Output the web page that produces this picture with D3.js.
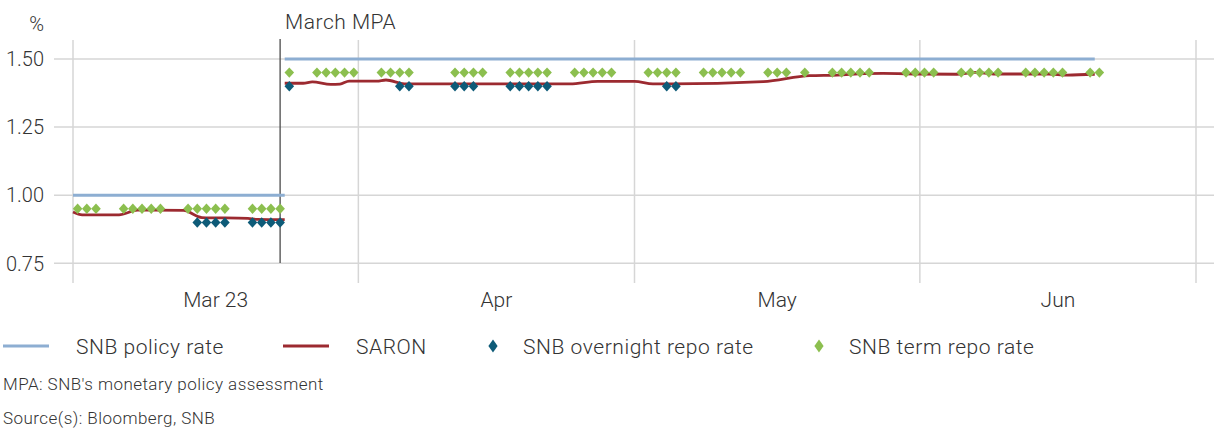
<!DOCTYPE html>
<html>
<head>
<meta charset="utf-8">
<style>
    body { margin: 0; background: #fff; }
    svg text { font-family: Roboto, "Noto Sans", sans-serif; font-weight: 300; fill: #333; }
    .grid line { stroke: #d6d6d6; stroke-width: 1.5px; }
</style>
</head>
<body>
<svg id="chart" width="1214" height="430"></svg>
<script src="https://d3js.org/d3.v7.min.js"></script>
<script>
    var parse = d3.timeParse("%Y-%m-%d");

    // x axis: month starts and labels
    var monthStarts = ["2023-03-01", "2023-04-01", "2023-05-01", "2023-06-01", "2023-07-01"];
    var monthLabels = ["Mar 23", "Apr", "May", "Jun"];
    var yTicks = [0.75, 1.00, 1.25, 1.50];

    // SNB policy rate periods
    var policyFrom = ["2023-03-01", "2023-03-24"];
    var policyTo = ["2023-03-24", "2023-06-20"];
    var policyRate = [1.00, 1.50];

    // SARON (two segments split at the MPA)
    var saron1Dates = ["2023-03-01", "2023-03-02", "2023-03-06", "2023-03-08", "2023-03-13", "2023-03-15",
        "2023-03-20", "2023-03-21", "2023-03-24"];
    var saron1 = [0.938, 0.928, 0.928, 0.945, 0.944, 0.918, 0.915, 0.911, 0.910];
    var saron2Dates = ["2023-03-24", "2023-03-26", "2023-03-27", "2023-03-29", "2023-03-30", "2023-03-31",
        "2023-04-03", "2023-04-04", "2023-04-06", "2023-04-24", "2023-04-27", "2023-05-01", "2023-05-03",
        "2023-05-05", "2023-05-15", "2023-05-20", "2023-05-23", "2023-05-26", "2023-05-28", "2023-06-01",
        "2023-06-05", "2023-06-07", "2023-06-09", "2023-06-15", "2023-06-17", "2023-06-20"];
    var saron2 = [1.411, 1.411, 1.416, 1.407, 1.408, 1.419,
        1.419, 1.423, 1.409, 1.409, 1.418, 1.418, 1.409,
        1.409, 1.417, 1.439, 1.441, 1.446, 1.447, 1.445,
        1.444, 1.451, 1.445, 1.445, 1.441, 1.444];

    // SNB overnight repo rate
    var overnightDates = ["2023-03-14", "2023-03-15", "2023-03-16", "2023-03-17", "2023-03-20", "2023-03-21",
        "2023-03-22", "2023-03-23", "2023-03-24", "2023-04-05", "2023-04-06", "2023-04-11", "2023-04-12",
        "2023-04-13", "2023-04-17", "2023-04-18", "2023-04-19", "2023-04-20", "2023-04-21", "2023-05-04",
        "2023-05-05"];
    var overnight = [0.90, 0.90, 0.90, 0.90, 0.90, 0.90, 0.90, 0.90, 1.40, 1.40, 1.40, 1.40, 1.40,
        1.40, 1.40, 1.40, 1.40, 1.40, 1.40, 1.40, 1.40];

    // SNB term repo rate
    var termDates = ["2023-03-01", "2023-03-02", "2023-03-03", "2023-03-06", "2023-03-07", "2023-03-08",
        "2023-03-09", "2023-03-10", "2023-03-13", "2023-03-14", "2023-03-15", "2023-03-16", "2023-03-17",
        "2023-03-20", "2023-03-21", "2023-03-22", "2023-03-23",
        "2023-03-24", "2023-03-27", "2023-03-28", "2023-03-29", "2023-03-30", "2023-03-31",
        "2023-04-03", "2023-04-04", "2023-04-05", "2023-04-06", "2023-04-11", "2023-04-12", "2023-04-13",
        "2023-04-14", "2023-04-17", "2023-04-18", "2023-04-19", "2023-04-20", "2023-04-21", "2023-04-24",
        "2023-04-25", "2023-04-26", "2023-04-27", "2023-04-28", "2023-05-02", "2023-05-03", "2023-05-04",
        "2023-05-05", "2023-05-08", "2023-05-09", "2023-05-10", "2023-05-11", "2023-05-12", "2023-05-15",
        "2023-05-16", "2023-05-17", "2023-05-19", "2023-05-22", "2023-05-23", "2023-05-24", "2023-05-25",
        "2023-05-26", "2023-05-30", "2023-05-31", "2023-06-01", "2023-06-02", "2023-06-05", "2023-06-06",
        "2023-06-07", "2023-06-08", "2023-06-09", "2023-06-12", "2023-06-13", "2023-06-14", "2023-06-15",
        "2023-06-16", "2023-06-19", "2023-06-20"];
    var term = termDates.map(function (d) { return d < "2023-03-24" ? 0.95 : 1.45; });

    var mpaDate = "2023-03-23";

    var colors = {policy: "#8daed2", saron: "#9c2a30", overnight: "#0e5b78", term: "#8cbf4f"};

    var svg = d3.select("#chart");

    var x = d3.scaleTime()
        .domain([parse(monthStarts[0]), parse(monthStarts[monthStarts.length - 1])])
        .range([73, 1196]);
    var y = d3.scaleLinear().domain([0.75, 1.5]).range([263.3, 59]);

    var noon = function (s) { return d3.timeHour.offset(parse(s), 12); };

    // horizontal grid
    var grid = svg.append("g").attr("class", "grid");
    grid.selectAll("line.h")
        .data(yTicks)
        .enter().append("line")
        .attr("x1", 54).attr("x2", 1214)
        .attr("y1", function (d) { return y(d); })
        .attr("y2", function (d) { return y(d); });
    grid.selectAll("line.v")
        .data(monthStarts)
        .enter().append("line")
        .attr("x1", function (d) { return x(parse(d)); })
        .attr("x2", function (d) { return x(parse(d)); })
        .attr("y1", 40).attr("y2", 283);

    // y labels
    svg.append("g").selectAll("text")
        .data(yTicks)
        .enter().append("text")
        .attr("x", 44)
        .attr("y", function (d) { return y(d); })
        .attr("dy", "0.36em")
        .attr("text-anchor", "end")
        .style("font-size", "20px")
        .text(function (d) { return d3.format(".2f")(d); });
    svg.append("text").attr("x", 44).attr("y", 31).attr("text-anchor", "end")
        .style("font-size", "20px").text("%");

    // x labels, centred in each month
    svg.append("g").selectAll("text")
        .data(monthLabels)
        .enter().append("text")
        .attr("x", function (d, i) { return (x(parse(monthStarts[i])) + x(parse(monthStarts[i + 1]))) / 2; })
        .attr("y", 307)
        .attr("text-anchor", "middle")
        .style("font-size", "21px")
        .text(function (d) { return d; });

    // MPA marker
    var mx = x(noon(mpaDate));
    svg.append("line").attr("x1", mx).attr("x2", mx).attr("y1", 39).attr("y2", 263)
        .attr("stroke", "#4a4a4a").attr("stroke-width", 1.3);
    svg.append("text").attr("x", mx + 5).attr("y", 29)
        .style("font-size", "21px").style("letter-spacing", "0.5px").text("March MPA");

    // policy rate
    svg.append("g").selectAll("line")
        .data(policyRate)
        .enter().append("line")
        .attr("x1", function (d, i) { return x(parse(policyFrom[i])); })
        .attr("x2", function (d, i) { return x(parse(policyTo[i])); })
        .attr("y1", function (d) { return y(d); })
        .attr("y2", function (d) { return y(d); })
        .attr("stroke", colors.policy).attr("stroke-width", 3);

    // SARON
    var line = d3.line()
        .x(function (d) { return x(parse(d[0])); })
        .y(function (d) { return y(d[1]); })
        .curve(d3.curveMonotoneX);
    [d3.zip(saron1Dates, saron1), d3.zip(saron2Dates, saron2)].forEach(function (seg) {
        svg.append("path").datum(seg)
            .attr("d", line)
            .attr("fill", "none")
            .attr("stroke", colors.saron)
            .attr("stroke-width", 2.8);
    });

    function diamond(hw, hh) {
        return "M0," + (-hh) + "L" + hw + ",0L0," + hh + "L" + (-hw) + ",0Z";
    }

    svg.append("g").selectAll("path")
        .data(d3.zip(overnightDates, overnight))
        .enter().append("path")
        .attr("d", diamond(4.8, 5.2))
        .attr("transform", function (d) { return "translate(" + x(noon(d[0])) + "," + y(d[1]) + ")"; })
        .attr("fill", colors.overnight);

    svg.append("g").selectAll("path")
        .data(d3.zip(termDates, term))
        .enter().append("path")
        .attr("d", diamond(4.8, 5.2))
        .attr("transform", function (d) { return "translate(" + x(noon(d[0])) + "," + y(d[1]) + ")"; })
        .attr("fill", colors.term);

    // legend
    var legendY = 346;
    var legend = [
        {name: "SNB policy rate", type: "line", color: colors.policy, x: 3},
        {name: "SARON", type: "line", color: colors.saron, x: 283},
        {name: "SNB overnight repo rate", type: "diamond", color: colors.overnight, x: 488},
        {name: "SNB term repo rate", type: "diamond", color: colors.term, x: 814}
    ];
    var li = svg.append("g").selectAll("g")
        .data(legend)
        .enter().append("g")
        .attr("transform", function (d) { return "translate(" + d.x + "," + legendY + ")"; });
    li.filter(function (d) { return d.type === "line"; })
        .append("line").attr("x1", 0).attr("x2", 46)
        .attr("stroke", function (d) { return d.color; }).attr("stroke-width", 3);
    li.filter(function (d) { return d.type === "diamond"; })
        .append("path").attr("d", diamond(4.6, 6.5)).attr("transform", "translate(5,0)")
        .attr("fill", function (d) { return d.color; });
    li.append("text")
        .attr("x", function (d) { return d.type === "line" ? 73 : 35; })
        .attr("dy", "0.36em")
        .style("font-size", "21px")
        .style("letter-spacing", "0.55px")
        .text(function (d) { return d.name; });

    svg.append("text").attr("x", 3).attr("y", 390)
        .style("font-size", "17px").style("letter-spacing", "0.45px")
        .text("MPA: SNB's monetary policy assessment");
    svg.append("text").attr("x", 3).attr("y", 424)
        .style("font-size", "17px").style("letter-spacing", "0.45px")
        .text("Source(s): Bloomberg, SNB");
</script>
</body>
</html>
